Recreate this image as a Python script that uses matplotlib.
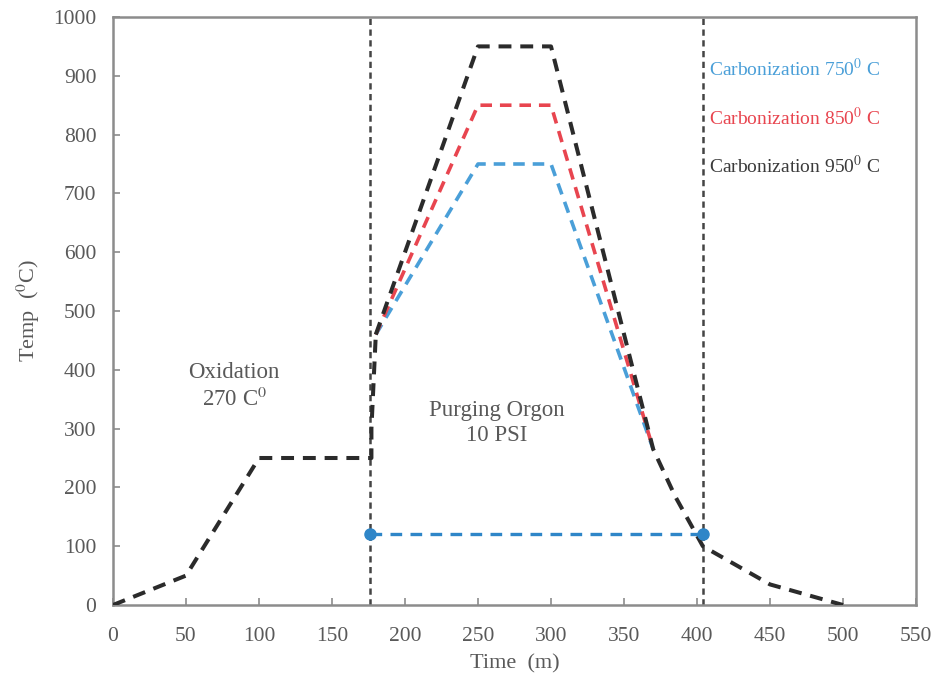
import matplotlib
matplotlib.use("Agg")
import matplotlib.pyplot as plt

plt.rcParams["font.family"] = ["Liberation Serif", "DejaVu Serif"]
plt.rcParams["mathtext.fontset"] = "stix"

# Heating profile (time in minutes, temperature in deg C)
time_common = [0, 50, 100, 177, 177, 180]
temp_common = [0, 50, 250, 250, 300, 460]

time_950 = [180, 250, 300, 370, 385, 404, 450, 500]
temp_950 = [460, 950, 950, 265, 185, 100, 35, 0]

time_850 = [180, 250, 300, 370]
temp_850 = [460, 850, 850, 265]

time_750 = [180, 250, 300, 370]
temp_750 = [460, 750, 750, 265]

# Argon purge window
purge_time = [176, 404]
purge_temp = [120, 120]

xticks = list(range(0, 551, 50))
yticks = list(range(0, 1001, 100))

grey = "#595959"
spine_grey = "#8c8c8c"
c750 = "#4a9fd8"
c850 = "#e8454f"
c950 = "#2b2b2b"
cpurge = "#2f86c8"

fig = plt.figure(figsize=(9.37, 6.86), dpi=100)
ax = fig.add_axes([113 / 937, 1 - 605 / 686, (916 - 113) / 937, (605 - 17) / 686])

dash = (0, (3.2, 2.2))
ax.plot(time_750, temp_750, color=c750, lw=2.6, linestyle=dash, zorder=3)
ax.plot(time_850, temp_850, color=c850, lw=2.6, linestyle=dash, zorder=3)
ax.plot(time_950, temp_950, color=c950, lw=2.9, linestyle=dash, zorder=4)
ax.plot(time_common, temp_common, color=c950, lw=2.9, linestyle=dash, zorder=4)

for xv in purge_time:
    ax.axvline(xv, color="#444444", lw=1.8, linestyle=(0, (2.5, 1.8)), zorder=2)

ax.plot(purge_time, purge_temp, color=cpurge, lw=2.4, linestyle=(0, (3.5, 2.5)),
        marker="o", markersize=8, zorder=5)

ax.set_xlim(0, 550)
ax.set_ylim(0, 1000)
ax.set_xticks(xticks)
ax.set_yticks(yticks)
ax.tick_params(direction="in", length=5, width=1.2, colors=spine_grey,
               labelcolor=grey, labelsize=15.5)
ax.tick_params(axis="x", pad=16)
ax.tick_params(axis="y", pad=12)
for s in ax.spines.values():
    s.set_color(spine_grey)
    s.set_linewidth(1.8)

ax.set_xlabel("Time  (m)", fontsize=16, color=grey, labelpad=6)
ax.set_ylabel(r"Temp  ($^0$C)", fontsize=16, color=grey, labelpad=8)

ax.text(83, 372, "Oxidation\n" + r"270 C$^0$", ha="center", va="center",
        fontsize=16.5, color=grey, linespacing=1.25)
ax.text(263, 310, "Purging Orgon\n10 PSI", ha="center", va="center",
        fontsize=16.5, color=grey, linespacing=1.25)

ax.text(408, 911, r"Carbonization 750$^0$ C", color=c750, fontsize=14, va="center")
ax.text(408, 828, r"Carbonization 850$^0$ C", color=c850, fontsize=14, va="center")
ax.text(408, 746, r"Carbonization 950$^0$ C", color="#3a3a3a", fontsize=14, va="center")

fig.savefig("out.png", dpi=100)
